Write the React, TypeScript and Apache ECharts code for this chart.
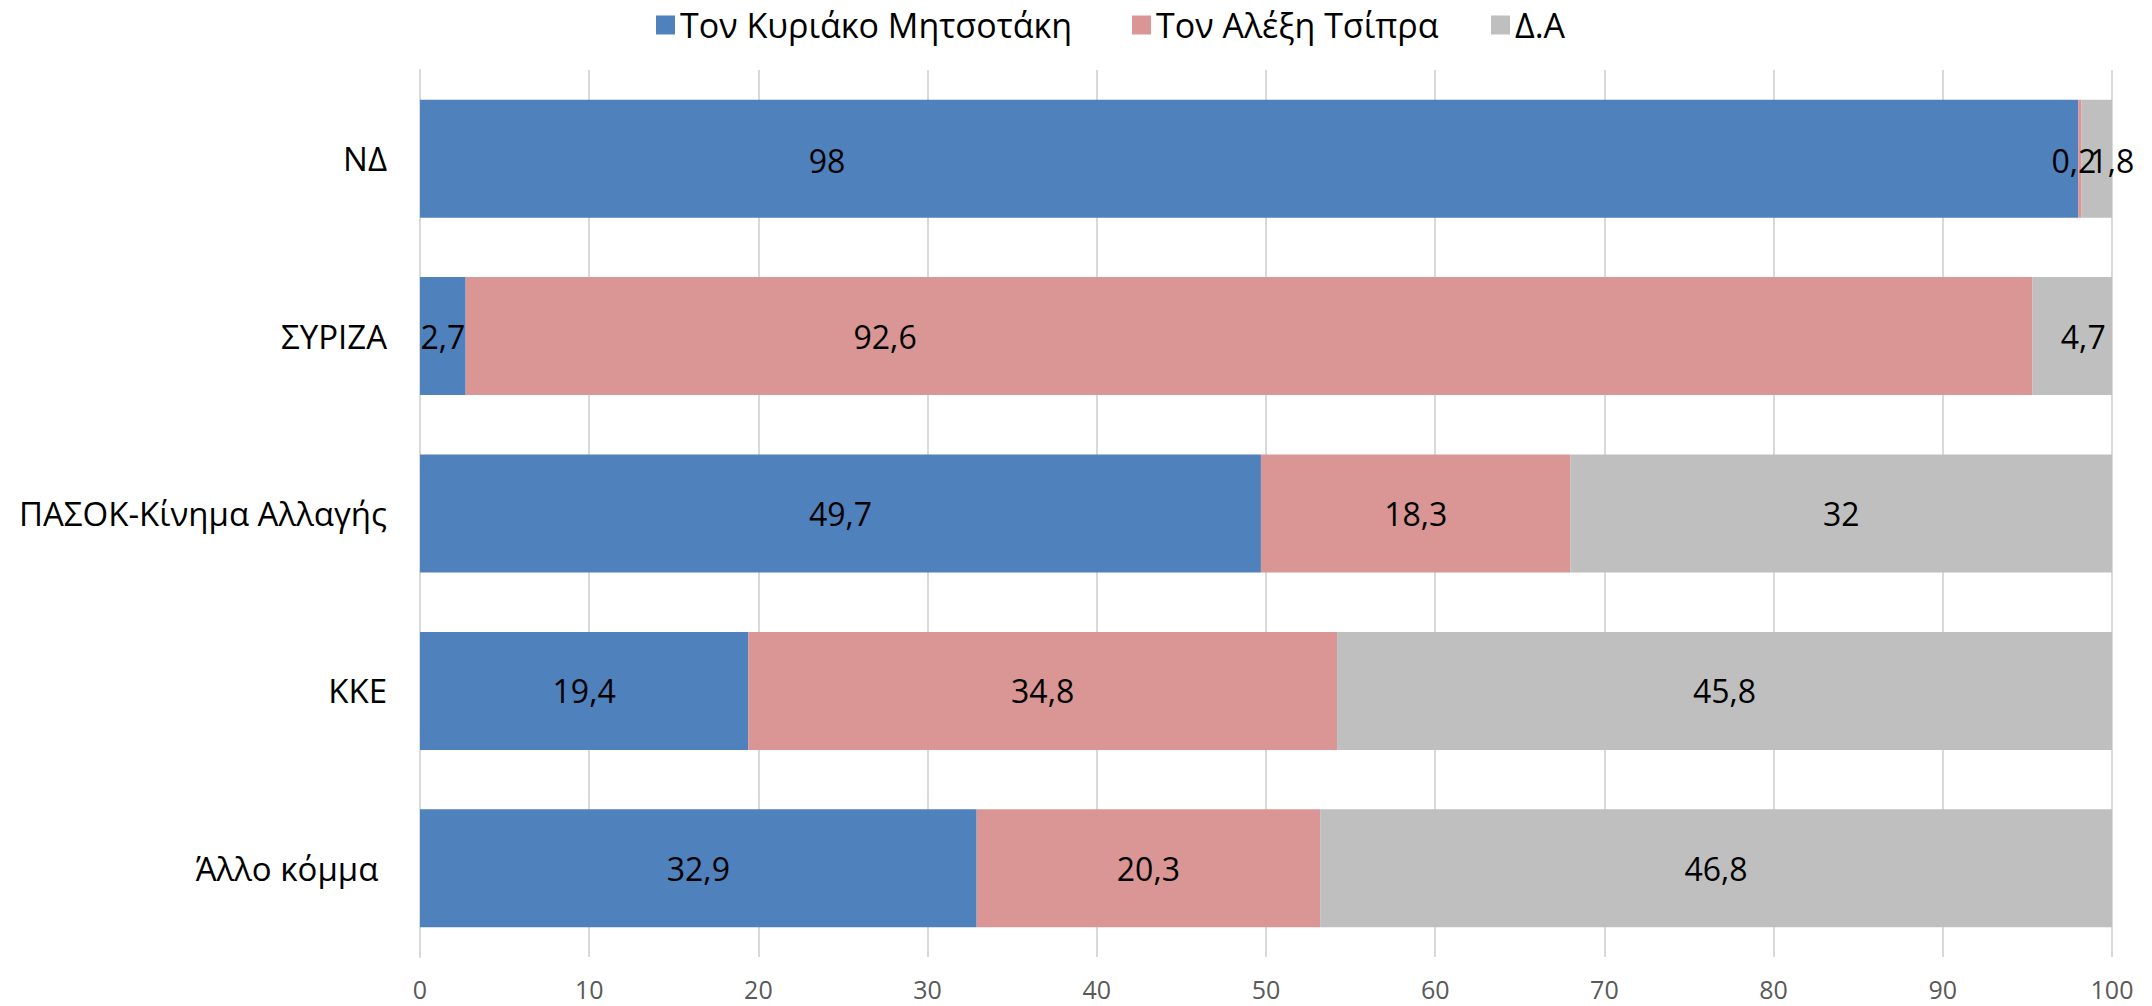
import React, { useEffect, useRef } from "react";
import * as echarts from "echarts";

const categories = ["ΝΔ", "ΣΥΡΙΖΑ", "ΠΑΣΟΚ-Κίνημα Αλλαγής", "ΚΚΕ", "Άλλο κόμμα "];
const seriesNames = ["Τον Κυριάκο Μητσοτάκη", "Τον Αλέξη Τσίπρα", "Δ.Α"];
const mitsotakis = [98, 2.7, 49.7, 19.4, 32.9];
const tsipras = [0.2, 92.6, 18.3, 34.8, 20.3];
const da = [1.8, 4.7, 32, 45.8, 46.8];
const xTicks = [0, 10, 20, 30, 40, 50, 60, 70, 80, 90, 100];

const colors = ["#4F81BD", "#D99694", "#BFBFBF"];
const legendLefts = [651, 1127, 1486];

// label position adjustments (pixels) keyed by series index / category index
const labelOffsets: Record<string, [number, number]> = {
  "0-0": [-422, 2],
  "1-0": [-6, 2],
  "2-0": [15, 2],
  "1-1": [-364, 0],
  "2-1": [11, 0],
};

export default function App() {
  const ref = useRef<HTMLDivElement>(null);
  useEffect(() => {
    if (!ref.current) return;
    const chart = echarts.init(ref.current, null, { renderer: "svg" });
    const allValues = [mitsotakis, tsipras, da];
    const series = allValues.map((vals, si) => ({
      name: seriesNames[si],
      type: "bar",
      stack: "total",
      barCategoryGap: "33.5%",
      itemStyle: { color: colors[si] },
      label: {
        show: true,
        position: "inside",
        color: "#000000",
        fontFamily: "Open Sans",
        fontSize: 32,
        formatter: (p: any) => String(p.value).replace(".", ","),
      },
      data: vals.map((v, ci) => {
        const off = labelOffsets[`${si}-${ci}`];
        return off ? { value: v, label: { offset: off } } : { value: v };
      }),
    }));
    const legends = seriesNames.map((n, i) => ({
      data: [n],
      left: legendLefts[i],
      top: 3,
      itemWidth: 19,
      itemHeight: 19,
      itemGap: 0,
      icon: "rect",
      textStyle: {
        fontFamily: "Open Sans",
        fontSize: 34,
        color: "#000000",
      },
    }));
    chart.setOption({
      animation: false,
      backgroundColor: "#ffffff",
      legend: legends,
      grid: { left: 420, right: 40, top: 70, bottom: 49, containLabel: false },
      xAxis: {
        type: "value",
        min: xTicks[0],
        max: xTicks[xTicks.length - 1],
        interval: 10,
        axisLine: { show: false },
        axisTick: { show: false },
        splitLine: { show: true, lineStyle: { color: "#D9D9D9", width: 2 } },
        axisLabel: {
          margin: 19,
          color: "#595959",
          fontFamily: "Open Sans",
          fontSize: 25,
        },
      },
      yAxis: {
        type: "category",
        data: categories,
        inverse: true,
        axisTick: { show: false },
        axisLine: { show: true, lineStyle: { color: "#D9D9D9", width: 2 } },
        axisLabel: {
          margin: 33,
          color: "#000000",
          fontFamily: "Open Sans",
          fontSize: 33,
        },
      },
      series,
    });
    return () => chart.dispose();
  }, []);
  return (
    <div
      ref={ref}
      style={{ position: "absolute", left: 0, top: 0, width: 2152, height: 1006 }}
    />
  );
}
